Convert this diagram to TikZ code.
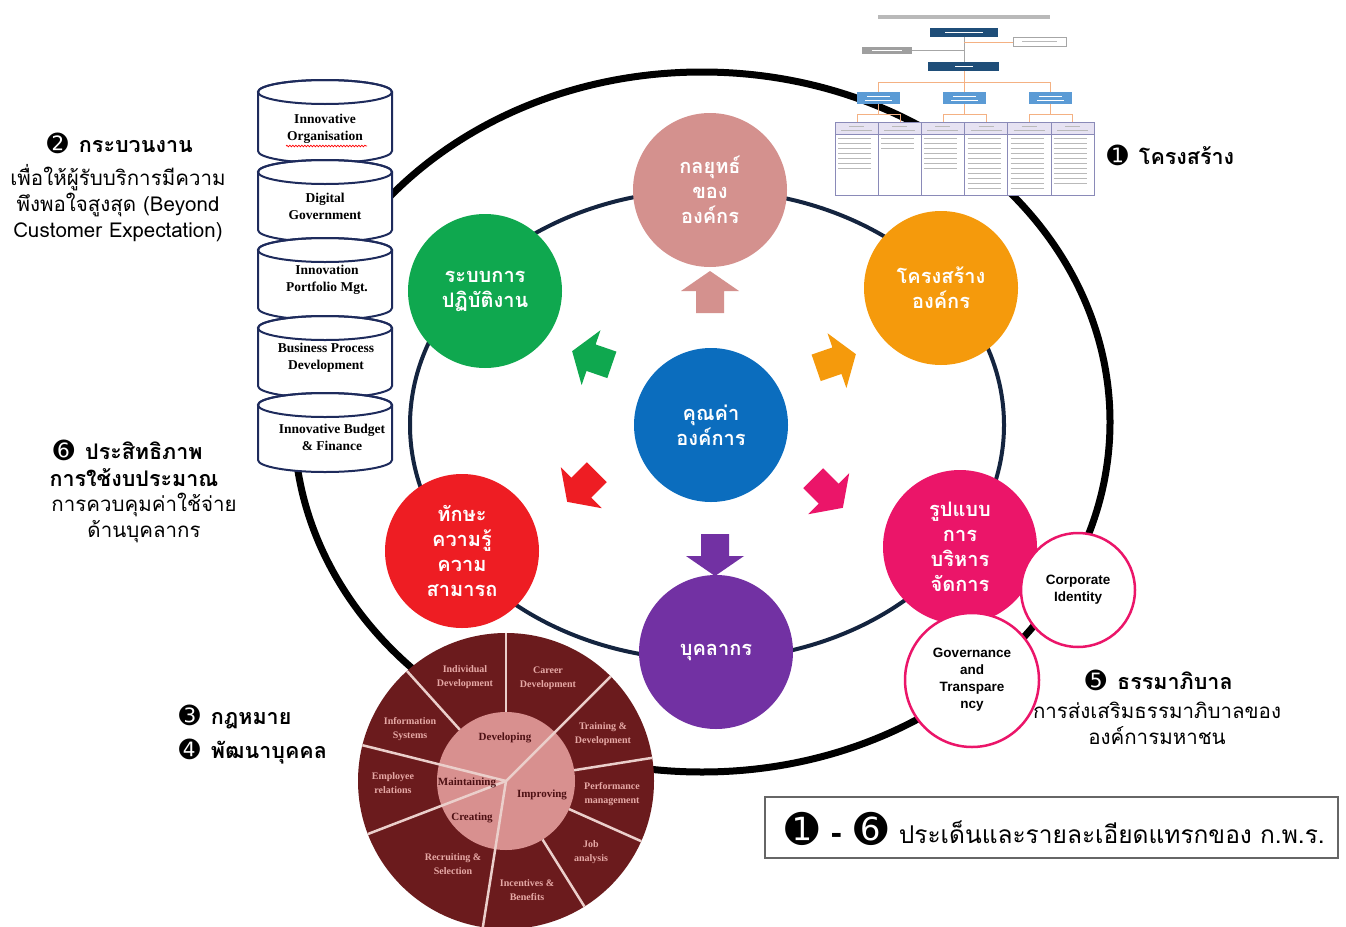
\documentclass[tikz,border=0pt]{standalone}
\usepackage{fontspec}
\usetikzlibrary{decorations.pathmorphing,calc}
\newfontfamily\thai[Script=Thai]{Loma}
\newfontfamily\dings{DejaVu Sans}
\newfontfamily\tms{Liberation Serif}
\newfontfamily\sns{Liberation Sans}

\definecolor{stratc}{HTML}{D4918E}
\definecolor{strucc}{HTML}{F59A0C}
\definecolor{opsc}{HTML}{0FA84F}
\definecolor{corec}{HTML}{0B6DBE}
\definecolor{skillc}{HTML}{EE1D23}
\definecolor{peoplec}{HTML}{7231A3}
\definecolor{mgmtc}{HTML}{EB1569}
\definecolor{ringnavy}{HTML}{14243F}
\definecolor{cylline}{HTML}{1E2B5C}
\definecolor{wheeldark}{HTML}{6B1B1D}
\definecolor{wheellight}{HTML}{D8908F}
\definecolor{wheeltext}{HTML}{E6A9A6}
\definecolor{wheelink}{HTML}{4D1013}
\definecolor{spokec}{HTML}{EBCFCB}
\definecolor{chartnavy}{HTML}{1F4E79}
\definecolor{chartblue}{HTML}{5B9BD5}
\definecolor{chartline}{HTML}{F4B183}
\definecolor{chartgrid}{HTML}{8A8AB8}
\definecolor{charthead}{HTML}{E6E2F2}

\tikzset{
  bubble/.style={circle, minimum size=154pt, inner sep=0pt, text=white, align=center,
    font=\thai\bfseries\fontsize{20}{25}\selectfont},
  subbubble/.style={circle, draw=mgmtc, line width=2.5pt, fill=white, inner sep=0pt,
    align=center, text=black, font=\sns\bfseries\fontsize{13.5}{17}\selectfont},
  cyltext/.style={align=center, inner sep=0pt, font=\tms\bfseries\fontsize{13.5}{17}\selectfont},
  cylbody/.style={fill=white, draw=cylline, line width=2pt},
  outertext/.style={align=center, inner sep=0pt, text=wheeltext, font=\tms\bfseries\fontsize{10}{14}\selectfont},
  innertext/.style={inner sep=0pt, text=wheelink, font=\tms\bfseries\fontsize{11}{13}\selectfont},
  spokeline/.style={draw=spokec, line width=2.5pt},
  thhead/.style={inner sep=0pt, font=\thai\bfseries\fontsize{21.5}{27}\selectfont},
  thbody/.style={inner sep=0pt, align=center, font=\thai\fontsize{20.5}{26}\selectfont},
  filler/.style={draw=gray!55, line width=0.8pt},
}

% circled number in the symbol font
\newcommand\numdot[1]{{\dings\fontsize{25}{25}\selectfont #1}}

% block arrow: centre x, centre y, rotation, colour
\newcommand\blockarr[4]{%
  \fill[#4, shift={(#1,#2)}, rotate=#3]
    (-21,-14) -- (1,-14) -- (1,-29) -- (21,0) -- (1,29) -- (1,14) -- (-21,14) -- cycle;}

% cylinder slice: top y, bottom y
\newcommand\cylslice[2]{%
  \path[cylbody] (258,#2-12) arc[start angle=180, end angle=360, x radius=67pt, y radius=12pt]
    -- (392,#1+12) arc[start angle=0, end angle=180, x radius=67pt, y radius=12pt] -- cycle;
  \draw[cylline, line width=2pt] (325,#1+12) ellipse [x radius=67pt, y radius=12pt];}

\begin{document}
\begin{tikzpicture}[x=1pt,y=-1pt]
\useasboundingbox (0,0) rectangle (1346,926);
\fill[white] (0,0) rectangle (1346,926);

% the two rings
\draw[line width=7pt] (702,422) ellipse [x radius=408pt, y radius=350pt];
\draw[ringnavy, line width=4pt] (707,425) ellipse [x radius=297pt, y radius=235pt];

% small organisation chart
\fill[gray!55] (878,14.5) rectangle (1050,18.5);
\draw[gray!70, line width=0.8pt] (964,37) -- (964,62);
\draw[gray!70, line width=0.8pt] (912,50.5) -- (964,50.5);
\draw[chartline, line width=0.8pt] (964,42) -- (1013,42);
\fill[chartnavy] (930,28) rectangle (998,37);
\draw[white, line width=1pt] (945,32.5) -- (983,32.5);
\draw[gray!70, line width=0.8pt, fill=white] (1013,37) rectangle (1066,46);
\draw[gray!55, line width=0.8pt] (1022,41.5) -- (1057,41.5);
\fill[gray!75] (862,47) rectangle (912,54);
\draw[white, line width=0.8pt] (872,50.5) -- (902,50.5);
\fill[chartnavy] (928,62) rectangle (999,71);
\draw[white, line width=1pt] (955,66.5) -- (973,66.5);
\draw[chartline, line width=0.8pt] (964,71) -- (964,82) (878,82) -- (1050,82)
  (878,82) -- (878,92) (964,82) -- (964,92) (1050,82) -- (1050,92);
\foreach \bx in {857,943,1029} {
  \fill[chartblue] (\bx,92) rectangle (\bx+43,104);
  \draw[white, line width=0.7pt] (\bx+10,96) -- (\bx+33,96) (\bx+8,100) -- (\bx+35,100);
  \draw[chartline, line width=0.8pt] (\bx+21.5,104) -- (\bx+21.5,114)
    (\bx,114) -- (\bx+43,114) (\bx,114) -- (\bx,122) (\bx+43,114) -- (\bx+43,122);
}
\fill[white] (835,122) rectangle (1094,195);
\fill[charthead] (835,122) rectangle (1094,134);
\draw[chartgrid, line width=0.7pt] (835,122) rectangle (1094,195) (835,134) -- (1094,134);
\foreach \i/\h in {0/172,1/152,2/170,3/192,4/190,5/186} {
  \pgfmathsetmacro\cx{835+43.17*\i}
  \draw[chartgrid, line width=0.7pt] (\cx,122) -- (\cx,195);
  \draw[filler, line width=0.6pt] (\cx+14,126) -- (\cx+29,126) (\cx+6,130) -- (\cx+37,130);
  \foreach \yy in {138,143,...,\h} {
    \draw[filler, line width=0.6pt] (\cx+3,\yy) -- (\cx+36,\yy);
  }
}

% process cylinders
\cylslice{80}{163}
\cylslice{160}{242}
\cylslice{238}{320}
\cylslice{316}{398}
\cylslice{393}{472}
\node[cyltext] (cyl1) at (325,129) {Innovative\\Organisation};
\draw[red, line width=0.7pt, decorate, decoration={snake, amplitude=0.8pt, segment length=3pt}]
  (286,146) -- (367,146);
\node[cyltext] (cyl2) at (325,206) {Digital\\Government};
\node[cyltext] (cyl3) at (327,280) {Innovation\\Portfolio Mgt.};
\node[cyltext] (cyl4) at (326,358) {Business Process\\Development};
\node[cyltext] (cyl5) at (332,437) {Innovative Budget\\\& Finance};

% the seven organisation bubbles
\node[bubble, fill=stratc]  (strategy)  at (710,190) {กลยุทธ์\\ของ\\องค์กร};
\node[bubble, fill=strucc]  (structure) at (941,288) {โครงสร้าง\\องค์กร};
\node[bubble, fill=opsc]    (operation) at (485,291) {ระบบการ\\ปฏิบัติงาน};
\node[bubble, fill=corec]   (values)    at (711,425) {คุณค่า\\องค์การ};
\node[bubble, fill=skillc]  (skills)    at (462,551) {ทักษะ\\ความรู้\\ความ\\สามารถ};
\node[bubble, fill=peoplec] (people)    at (716,652) {บุคลากร};
\node[bubble, fill=mgmtc]   (management) at (960,547) {รูปแบบ\\การ\\บริหาร\\จัดการ};

% arrows radiating from the core values
\blockarr{710}{292}{90}{stratc}
\blockarr{715}{555}{-90}{peoplec}
\blockarr{592}{358}{161}{opsc}
\blockarr{836}{361}{19}{strucc}
\blockarr{582}{487}{-135}{skillc}
\blockarr{828}{493}{-45}{mgmtc}

% governance sub-bubbles
\node[subbubble, minimum size=114pt] (identity) at (1078,590) {Corporate\\Identity};
\node[subbubble, minimum size=134pt] (governance) at (972,680) {Governance\\and\\Transpare\\ncy};

% HR wheel
\begin{scope}
\clip (0,0) rectangle (1346,926);
\coordinate (wc) at (506,781);
\fill[wheeldark] (wc) circle[radius=148pt];
\fill[wheellight] (wc) circle[radius=69pt];
\foreach \a in {45,-99,166,201} \draw[spokeline] (wc) -- ++(\a:148pt);
\foreach \a in {90,9,-24,-58,132} \draw[spokeline] ($(wc)+(\a:69pt)$) -- ($(wc)+(\a:148pt)$);
\node[outertext] (w1) at (465,677) {Individual\\Development};
\node[outertext] (w2) at (548,678) {Career\\Development};
\node[outertext] (w3) at (410,729) {Information\\Systems};
\node[outertext] (w4) at (603,734) {Training \&\\Development};
\node[outertext] (w5) at (393,783) {Employee\\relations};
\node[outertext] (w6) at (612,794) {Performance\\management};
\node[outertext] (w7) at (591,852) {Job\\analysis};
\node[outertext] (w8) at (453,864) {Recruiting \&\\Selection};
\node[outertext] (w9) at (527,890) {Incentives \&\\Benefits};
\node[innertext] (i1) at (505,738) {Developing};
\node[innertext] (i2) at (467,783) {Maintaining};
\node[innertext] (i3) at (542,795) {Improving};
\node[innertext] (i4) at (472,818) {Creating};
\end{scope}

% numbered topics
\node[thhead, anchor=west] (t1) at (1107,155) {\numdot{➊}\, โครงสร้าง};
\node[thhead] (t2) at (120,143) {\numdot{➋}\, กระบวนงาน};
\node[thbody] (t2b) at (118,203) {เพื่อให้ผู้รับบริการมีความ\\พึงพอใจสูงสุด (Beyond\\Customer Expectation)};
\node[thhead, anchor=west] (t3) at (179,717) {\numdot{➌}\, กฎหมาย};
\node[thhead, anchor=west] (t4) at (179,752) {\numdot{➍}\, พัฒนาบุคคล};
\node[thhead] (t5) at (1159,680) {\numdot{➎}\, ธรรมาภิบาล};
\node[thbody] (t5b) at (1157,723) {การส่งเสริมธรรมาภิบาลของ\\องค์การมหาชน};
\node[thhead] (t6) at (128,450) {\numdot{➏}\, ประสิทธิภาพ};
\node[thhead] (t6a) at (134,478) {การใช้งบประมาณ};
\node[thbody] (t6b) at (144,518) {การควบคุมค่าใช้จ่าย\\ด้านบุคลากร};

% key box
\draw[gray!80!black, line width=1.5pt] (765,797) rectangle (1338,858);
\node[inner sep=0pt, anchor=west] (key) at (785,829)
  {{\dings\fontsize{40}{40}\selectfont ➊}\hspace{12pt}{\dings\bfseries\fontsize{28}{28}\selectfont -}\hspace{12pt}{\dings\fontsize{40}{40}\selectfont ➏}\hspace{11pt}%
   {\thai\fontsize{24.5}{28}\selectfont ประเด็นและรายละเอียดแทรกของ ก.พ.ร.}};
\end{tikzpicture}
\end{document}
